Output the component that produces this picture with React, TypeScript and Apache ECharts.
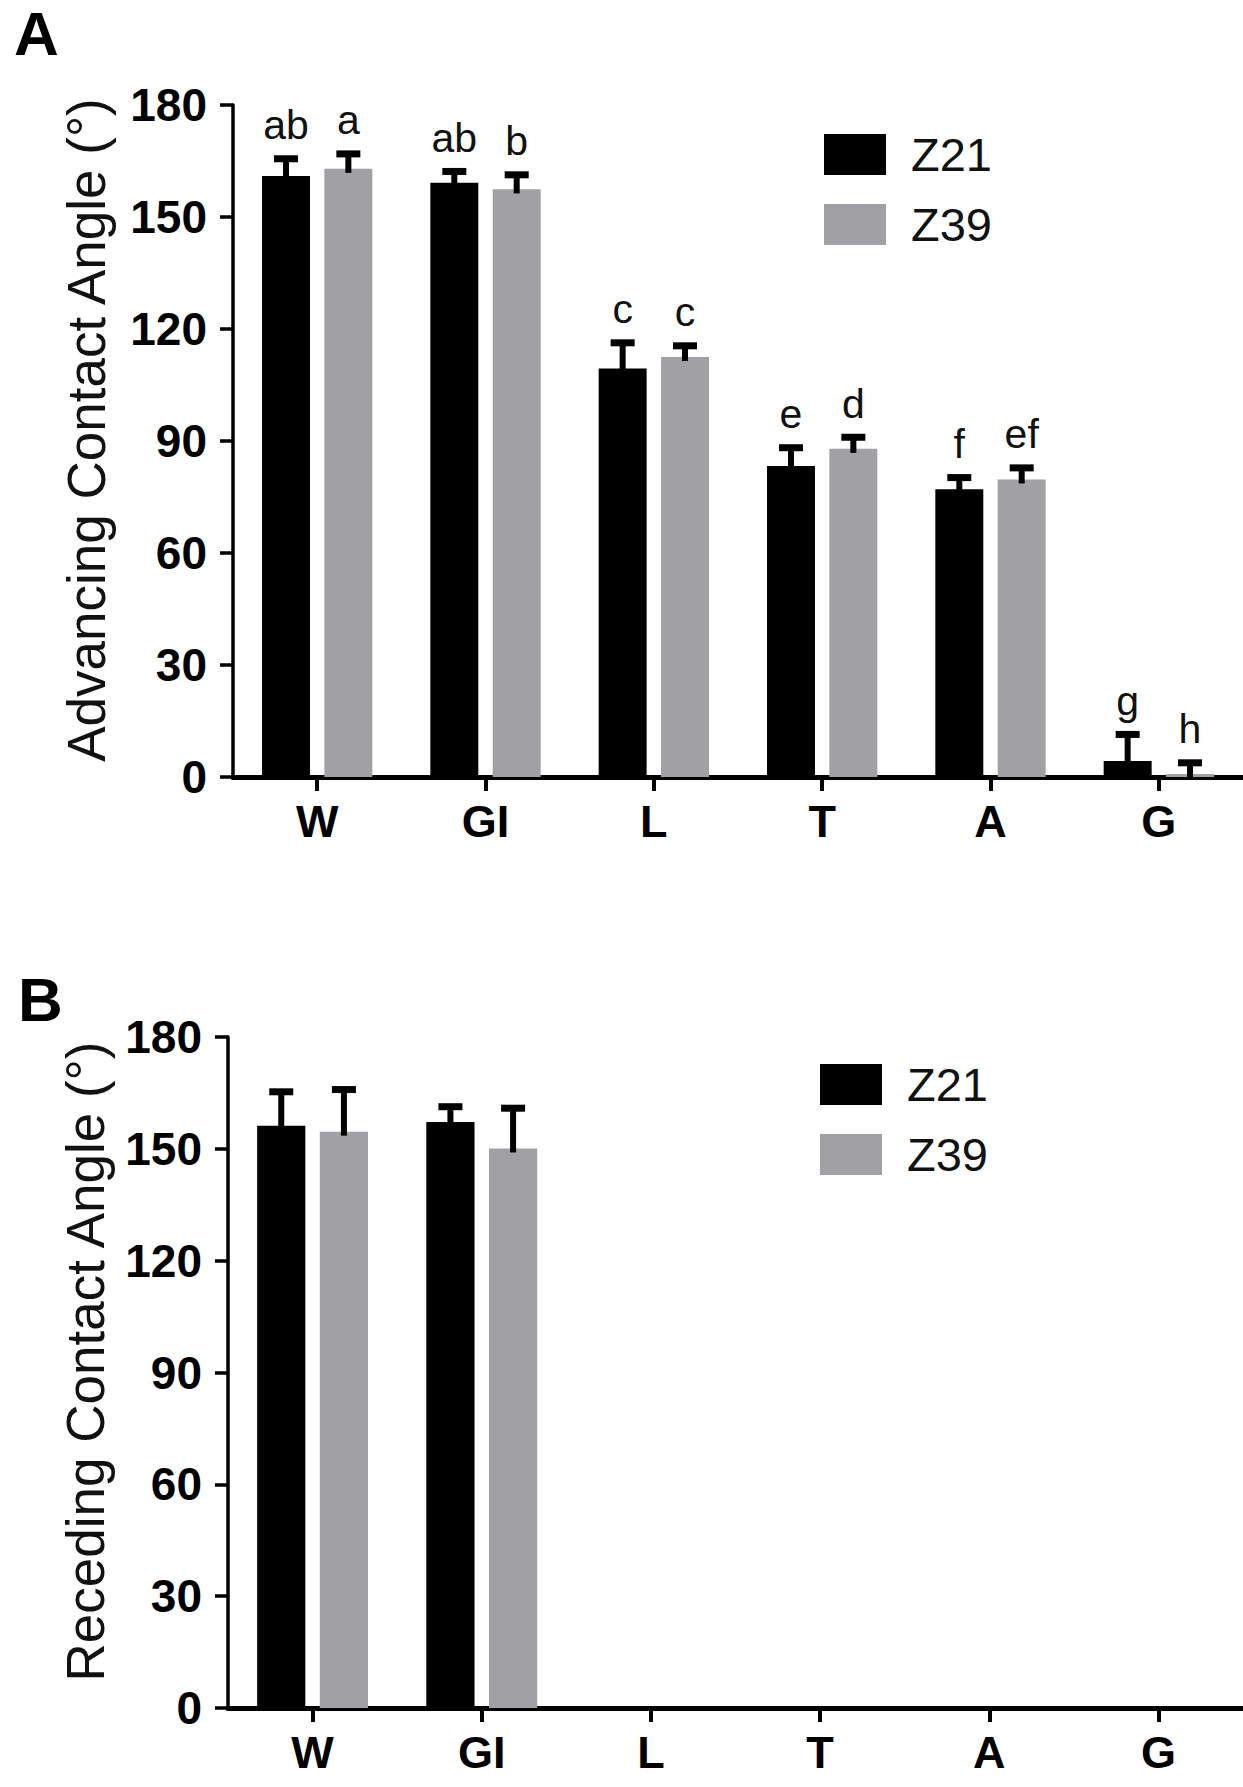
import React, { useEffect, useRef } from "react";
import * as echarts from "echarts";

const categories = ["W", "GI", "L", "T", "A", "G"];
const seriesNames = ["Z21", "Z39"];

const advZ21 = [161.0, 159.2, 109.4, 83.3, 77.1, 4.3];
const advZ21Err = [4.6, 3.0, 6.9, 4.9, 3.1, 7.1];
const advZ39 = [162.9, 157.4, 112.5, 87.9, 79.7, 0.8];
const advZ39Err = [4.0, 3.9, 3.0, 3.1, 3.1, 3.0];
const advZ21Letters = ["ab", "ab", "c", "e", "f", "g"];
const advZ39Letters = ["a", "b", "c", "d", "ef", "h"];

const recZ21 = [156.2, 157.2, 0, 0, 0, 0];
const recZ21Err = [9.1, 4.1, 0, 0, 0, 0];
const recZ39 = [154.6, 150.1, 0, 0, 0, 0];
const recZ39Err = [11.3, 10.8, 0, 0, 0, 0];
const recZ21Letters = ["", "", "", "", "", ""];
const recZ39Letters = ["", "", "", "", "", ""];

const FONT = "'Liberation Sans', Arial, Helvetica, sans-serif";
const BLACK = "#000000";
const GRAY = "#a1a1a5";
const BAR_FRAC = 0.285;
const GAP_FRAC = 0.3;

function errSeries(
  name: string,
  gridIdx: number,
  values: number[],
  errs: number[],
  letters: string[],
  side: number
) {
  return {
    type: "custom",
    name,
    xAxisIndex: gridIdx,
    yAxisIndex: gridIdx,
    clip: false,
    silent: true,
    z: 5,
    data: values.map((v, i) => [i, v, errs[i]]),
    renderItem: (params: any, api: any) => {
      const idx = api.value(0);
      const v = api.value(1);
      const e = api.value(2);
      const band = api.size([1, 0])[0];
      const bw = band * BAR_FRAC;
      const gap = bw * GAP_FRAC;
      const off = ((bw + gap) / 2) * side;
      const base = api.coord([idx, v]);
      const top = api.coord([idx, v + e]);
      const x = base[0] + off;
      const children: any[] = [];
      if (e > 0) {
        children.push({
          type: "line",
          shape: { x1: x, y1: base[1] + 4, x2: x, y2: top[1] },
          style: { stroke: "#000", lineWidth: 6 },
        });
        children.push({
          type: "line",
          shape: { x1: x - 12, y1: top[1], x2: x + 12, y2: top[1] },
          style: { stroke: "#000", lineWidth: 7 },
        });
      }
      const letter = letters[params.dataIndex];
      if (letter) {
        children.push({
          type: "text",
          x: x,
          y: top[1] - 13,
          style: {
            text: letter,
            fill: "#111",
            font: `41px ${FONT}`,
            textAlign: "center",
            textVerticalAlign: "bottom",
          },
        });
      }
      return { type: "group", children };
    },
  };
}

function xAxisOf(gridIndex: number) {
  return {
    type: "category",
    gridIndex,
    data: categories,
    axisLine: { show: true, lineStyle: { color: "#000", width: 5 } },
    axisTick: {
      show: true,
      alignWithLabel: true,
      length: 14,
      lineStyle: { color: "#000", width: 4 },
    },
    axisLabel: {
      fontSize: 45,
      fontWeight: "bold",
      fontFamily: FONT,
      color: "#000",
      margin: 22,
    },
    splitLine: { show: false },
  };
}

function yAxisOf(gridIndex: number, name: string, nameGap: number) {
  return {
    type: "value",
    gridIndex,
    min: 0,
    max: 180,
    interval: 30,
    name,
    nameLocation: "middle",
    nameGap,
    nameTextStyle: {
      fontSize: 53,
      fontFamily: FONT,
      color: "#111",
      padding: [0, 0, 0, 22],
    },
    axisLine: { show: true, lineStyle: { color: "#000", width: 3.5 } },
    axisTick: { show: true, length: 13, lineStyle: { color: "#000", width: 3.5 } },
    axisLabel: {
      fontSize: 46,
      fontWeight: "bold",
      fontFamily: FONT,
      color: "#000",
      margin: 26,
    },
    splitLine: { show: false },
  };
}

function legendOf(left: number, top: number) {
  return {
    data: seriesNames,
    orient: "vertical",
    left,
    top,
    icon: "rect",
    itemWidth: 62,
    itemHeight: 41,
    itemGap: 23,
    selectedMode: false,
    textStyle: {
      fontSize: 47,
      fontFamily: FONT,
      color: "#111",
      lineHeight: 41,
      padding: [0, 0, 0, 20],
    },
  };
}

function barSeries(name: string, gridIdx: number, data: number[], color: string) {
  return {
    type: "bar",
    name,
    xAxisIndex: gridIdx,
    yAxisIndex: gridIdx,
    data,
    barWidth: `${BAR_FRAC * 100}%`,
    barGap: `${GAP_FRAC * 100}%`,
    itemStyle: { color },
    z: 2,
  };
}

export default function App() {
  const ref = useRef<HTMLDivElement>(null);
  useEffect(() => {
    document.body.style.margin = "0";
    if (!ref.current) return;
    const chart = echarts.init(ref.current, null, { renderer: "svg" });
    chart.setOption({
      animation: false,
      backgroundColor: "#ffffff",
      grid: [
        { left: 233, top: 105, width: 1010, height: 672 },
        { left: 228, top: 1037, width: 1015, height: 671 },
      ],
      xAxis: [xAxisOf(0), xAxisOf(1)],
      yAxis: [
        yAxisOf(0, "Advancing Contact Angle (°)", 120),
        yAxisOf(1, "Receding Contact Angle (°)", 116),
      ],
      legend: [legendOf(819, 126), legendOf(815, 1056)],
      graphic: [
        {
          type: "text",
          left: 14,
          top: 2,
          style: { text: "A", font: `bold 62px ${FONT}`, fill: "#000" },
        },
        {
          type: "text",
          left: 18,
          top: 968,
          style: { text: "B", font: `bold 62px ${FONT}`, fill: "#000" },
        },
      ],
      series: [
        barSeries("Z21", 0, advZ21, BLACK),
        barSeries("Z39", 0, advZ39, GRAY),
        errSeries("errA1", 0, advZ21, advZ21Err, advZ21Letters, -1),
        errSeries("errA2", 0, advZ39, advZ39Err, advZ39Letters, 1),
        barSeries("Z21", 1, recZ21, BLACK),
        barSeries("Z39", 1, recZ39, GRAY),
        errSeries("errB1", 1, recZ21, recZ21Err, recZ21Letters, -1),
        errSeries("errB2", 1, recZ39, recZ39Err, recZ39Letters, 1),
      ],
    });
    return () => chart.dispose();
  }, []);
  return <div ref={ref} style={{ width: 1243, height: 1787 }} />;
}
